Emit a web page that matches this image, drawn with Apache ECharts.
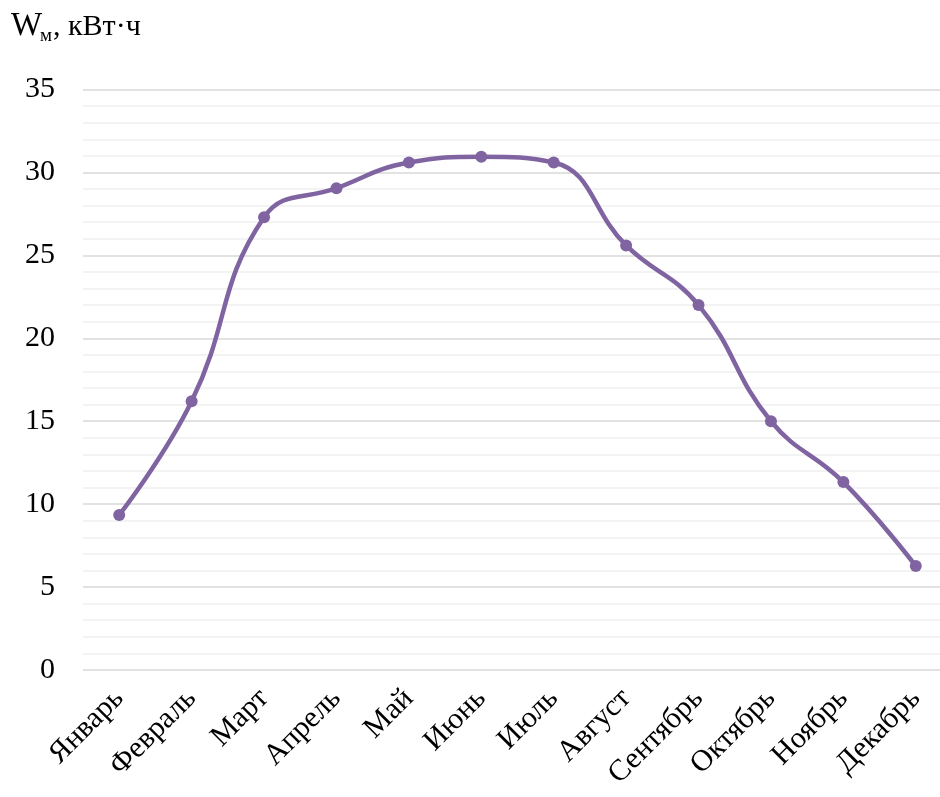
<!DOCTYPE html>
<html><head><meta charset="utf-8">
<script src="https://cdn.jsdelivr.net/npm/echarts@6/dist/echarts.min.js"></script>
<style>html,body{margin:0;padding:0;background:#fff}#c{width:940px;height:797px}</style>
</head><body><div id="c"></div>
<script>
const months = ['Январь','Февраль','Март','Апрель','Май','Июнь','Июль','Август','Сентябрь','Октябрь','Ноябрь','Декабрь'];
const energy = [9.35, 16.2, 27.3, 29.05, 30.6, 30.95, 30.6, 25.6, 22.0, 15.0, 11.33, 6.27];
const yTicks = [0, 5, 10, 15, 20, 25, 30, 35];

const FONT = 'Liberation Serif';
const chart = echarts.init(document.getElementById('c'), null, {renderer: 'canvas'});
chart.setOption({
  animation: false,
  backgroundColor: '#fff',
  grid: {left: 83, width: 869, top: 89.5, bottom: 127, containLabel: false, outerBoundsMode: 'none'},
  graphic: [
    {type: 'text', left: 11, top: 10, style: {text: 'W', font: '33px "Liberation Serif"', fill: '#000'}},
    {type: 'text', left: 40, top: 27, style: {text: 'м', font: '19px "Liberation Serif"', fill: '#000'}},
    {type: 'text', left: 53, top: 12, style: {text: ', кВт·ч', font: '30px "Liberation Serif"', fill: '#000'}}
  ],
  xAxis: {
    type: 'category', data: months, boundaryGap: true,
    axisLine: {show: false}, axisTick: {show: false},
    axisLabel: {rotate: 45, margin: 24, fontFamily: FONT, fontSize: 30, color: '#000', interval: 0}
  },
  yAxis: {
    type: 'value', min: yTicks[0], max: yTicks[yTicks.length-1], interval: 5,
    axisLine: {show: false}, axisTick: {show: false},
    axisLabel: {fontFamily: FONT, fontSize: 30, color: '#000', margin: 28},
    splitLine: {show: true, lineStyle: {color: '#d9d9d9', width: 1.5}},
    minorTick: {show: false, splitNumber: 5},
    minorSplitLine: {show: true, lineStyle: {color: '#f0f0f0', width: 1.5}}
  },
  series: [{
    type: 'line', data: energy, smooth: 0.45,
    symbol: 'circle', symbolSize: 12,
    lineStyle: {color: '#8064a2', width: 4.5},
    itemStyle: {color: '#8064a2'}
  }]
});
</script></body></html>
